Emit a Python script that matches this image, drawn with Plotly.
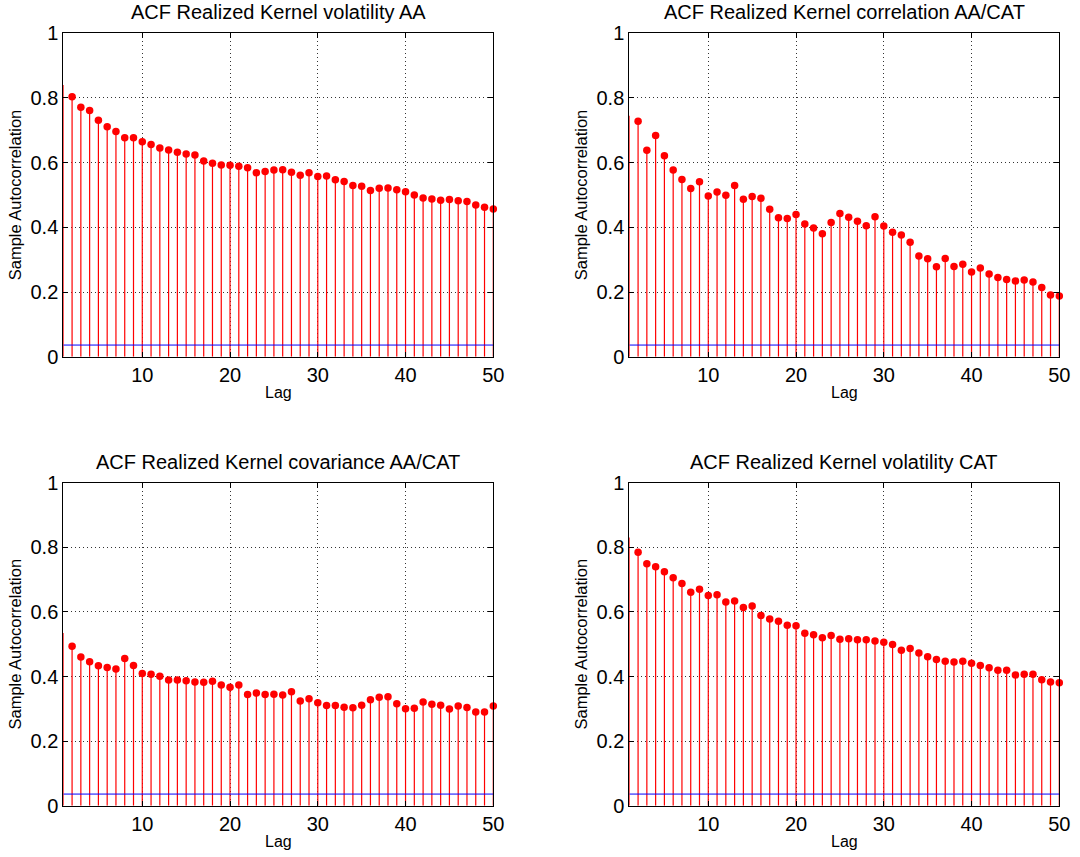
import plotly.graph_objects as go

W, H = 1080, 857

lags = list(range(1, 51))

acf_vol_AA = [0.840, 0.804, 0.771, 0.761, 0.731, 0.711, 0.696, 0.677, 0.677, 0.665,
              0.656, 0.645, 0.639, 0.632, 0.627, 0.624, 0.605, 0.598, 0.593, 0.592,
              0.589, 0.584, 0.569, 0.573, 0.577, 0.578, 0.570, 0.561, 0.569, 0.557,
              0.559, 0.547, 0.542, 0.529, 0.527, 0.514, 0.521, 0.522, 0.516, 0.510,
              0.500, 0.491, 0.488, 0.484, 0.486, 0.482, 0.480, 0.469, 0.462, 0.457]

acf_corr_AA_CAT = [0.745, 0.728, 0.638, 0.684, 0.621, 0.577, 0.548, 0.520, 0.541, 0.497,
                   0.509, 0.499, 0.529, 0.487, 0.495, 0.490, 0.456, 0.430, 0.427, 0.440,
                   0.410, 0.398, 0.380, 0.415, 0.443, 0.431, 0.419, 0.405, 0.433, 0.404,
                   0.385, 0.376, 0.354, 0.311, 0.303, 0.278, 0.304, 0.279, 0.286, 0.262,
                   0.274, 0.256, 0.245, 0.239, 0.234, 0.237, 0.231, 0.214, 0.191, 0.188]

acf_cov_AA_CAT = [0.535, 0.494, 0.460, 0.446, 0.433, 0.428, 0.423, 0.456, 0.434, 0.409,
                  0.407, 0.401, 0.389, 0.389, 0.387, 0.383, 0.382, 0.385, 0.374, 0.367,
                  0.374, 0.344, 0.349, 0.344, 0.345, 0.343, 0.353, 0.324, 0.331, 0.319,
                  0.310, 0.310, 0.305, 0.303, 0.311, 0.328, 0.336, 0.337, 0.316, 0.300,
                  0.302, 0.321, 0.314, 0.311, 0.299, 0.309, 0.304, 0.290, 0.290, 0.309]

acf_vol_CAT = [0.830, 0.785, 0.749, 0.740, 0.724, 0.706, 0.688, 0.661, 0.670, 0.651,
               0.653, 0.631, 0.634, 0.614, 0.618, 0.589, 0.578, 0.571, 0.559, 0.557,
               0.534, 0.529, 0.520, 0.527, 0.515, 0.517, 0.514, 0.514, 0.510, 0.506,
               0.499, 0.481, 0.487, 0.473, 0.461, 0.453, 0.447, 0.445, 0.447, 0.441,
               0.434, 0.427, 0.419, 0.419, 0.405, 0.407, 0.407, 0.390, 0.383, 0.381]

conf_bound = 0.036

titles = ["ACF Realized Kernel volatility AA",
          "ACF Realized Kernel correlation AA/CAT",
          "ACF Realized Kernel covariance AA/CAT",
          "ACF Realized Kernel volatility CAT"]
series = [acf_vol_AA, acf_corr_AA_CAT, acf_cov_AA_CAT, acf_vol_CAT]

x_ticks = [10, 20, 30, 40, 50]
y_ticks = [0, 0.2, 0.4, 0.6, 0.8, 1]
y_tick_text = ["0", "0.2", "0.4", "0.6", "0.8", "1"]
x_label = "Lag"
y_label = "Sample Autocorrelation"

# pixel boxes for the axes: (left, right), (top, bottom)
cols = [(63.3, 493.3), (629.3, 1059.3)]
rows = [(33.3, 356.7), (482.7, 805.7)]

FONT = "Liberation Sans, Arial, Helvetica, sans-serif"


def px(xw):
    return xw / W


def py(yw):
    return 1 - yw / H


fig = go.Figure()
annotations = []

for i, (title, vals) in enumerate(zip(titles, series)):
    r, c = divmod(i, 2)
    L, R = cols[c]
    T, B = rows[r]
    xa = "x" if i == 0 else f"x{i+1}"
    ya = "y" if i == 0 else f"y{i+1}"
    xkey = "xaxis" if i == 0 else f"xaxis{i+1}"
    ykey = "yaxis" if i == 0 else f"yaxis{i+1}"

    # stems
    sx, sy = [], []
    for lag, v in zip(lags, vals):
        sx += [lag, lag, None]
        sy += [0, v, None]
    fig.add_trace(go.Scatter(x=sx, y=sy, mode="lines", xaxis=xa, yaxis=ya,
                             line=dict(color="#ff0000", width=1.2),
                             hoverinfo="skip", showlegend=False))
    # confidence bound
    fig.add_trace(go.Scatter(x=[lags[0], lags[-1]], y=[conf_bound, conf_bound],
                             mode="lines", xaxis=xa, yaxis=ya,
                             line=dict(color="#0000ff", width=1),
                             showlegend=False))
    # markers (lag 1 sits on the axis edge and is clipped away in the original)
    fig.add_trace(go.Scatter(x=lags[1:], y=vals[1:], mode="markers", xaxis=xa, yaxis=ya,
                             marker=dict(color="#ff0000", size=7.5, line=dict(width=0)),
                             cliponaxis=False, showlegend=False))

    common = dict(showline=True, mirror="ticks", linecolor="black", linewidth=1,
                  ticks="inside", ticklen=5, tickcolor="black", tickwidth=1,
                  showgrid=True, gridcolor="#333333", griddash="1px,3px", gridwidth=1,
                  zeroline=False, tickfont=dict(family=FONT, size=20, color="black"),
                  automargin=False)
    fig.layout[xkey] = dict(domain=[px(L), px(R)], range=[1, 50], tickvals=x_ticks,
                            anchor=ya, **common)
    fig.layout[ykey] = dict(domain=[py(B), py(T)], range=[0, 1], tickvals=y_ticks,
                            ticktext=y_tick_text, anchor=xa, **common)

    cx = (L + R) / 2
    cy = (T + B) / 2
    annotations.append(dict(text=title, x=px(cx), y=py(T - 21), xref="paper", yref="paper",
                            xanchor="center", yanchor="middle", showarrow=False,
                            font=dict(family=FONT, size=20, color="black")))
    annotations.append(dict(text=x_label, x=px(cx), y=py(B + 36), xref="paper", yref="paper",
                            xanchor="center", yanchor="middle", showarrow=False,
                            font=dict(family=FONT, size=16, color="black")))
    annotations.append(dict(text=y_label, x=px(L - 48), y=py(cy), xref="paper", yref="paper",
                            xanchor="center", yanchor="middle", showarrow=False, textangle=-90,
                            font=dict(family=FONT, size=16.5, color="black")))

fig.update_layout(width=W, height=H, margin=dict(l=0, r=0, t=0, b=0),
                  paper_bgcolor="white", plot_bgcolor="white",
                  annotations=annotations, showlegend=False)

# remove the browser's default 8px body margin so the figure fills the window exactly
fig.write_html("out.html", config={"displayModeBar": False},
               post_script="document.body.style.margin='0';document.body.style.overflow='hidden';")
